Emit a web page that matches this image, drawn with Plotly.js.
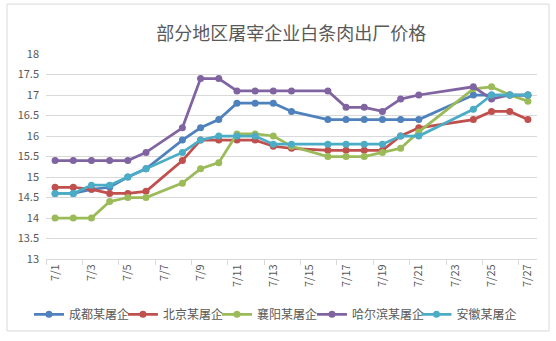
<!DOCTYPE html>
<html>
<head>
<meta charset="utf-8">
<script src="https://cdn.plot.ly/plotly-3.0.1.min.js"></script>
<style>
html,body{margin:0;padding:0;background:#fff;}
#chart{width:556px;height:341px;}
</style>
</head>
<body>
<div id="chart"></div>
<script>
const dates = ['2017-07-01','2017-07-02','2017-07-03','2017-07-04','2017-07-05','2017-07-06',
  '2017-07-08','2017-07-09','2017-07-10','2017-07-11','2017-07-12','2017-07-13','2017-07-14',
  '2017-07-16','2017-07-17','2017-07-18','2017-07-19','2017-07-20','2017-07-21',
  '2017-07-24','2017-07-25','2017-07-26','2017-07-27'];
const seriesNames = ['成都某屠企','北京某屠企','襄阳某屠企','哈尔滨某屠企','安徽某屠企'];
const chengdu  = [14.6,14.6,14.7,14.75,15.0,15.2,15.9,16.2,16.4,16.8,16.8,16.8,16.6,16.4,16.4,16.4,16.4,16.4,16.4,17.0,17.0,17.0,17.0];
const beijing  = [14.75,14.75,14.7,14.6,14.6,14.65,15.4,15.9,15.9,15.9,15.9,15.75,15.7,15.65,15.65,15.65,15.65,16.0,16.2,16.4,16.6,16.6,16.4];
const xiangyang= [14.0,14.0,14.0,14.4,14.5,14.5,14.85,15.2,15.35,16.05,16.05,16.0,15.75,15.5,15.5,15.5,15.6,15.7,16.1,17.15,17.2,17.0,16.85];
const harbin   = [15.4,15.4,15.4,15.4,15.4,15.6,16.2,17.4,17.4,17.1,17.1,17.1,17.1,17.1,16.7,16.7,16.6,16.9,17.0,17.2,16.9,17.0,17.0];
const anhui    = [14.6,14.6,14.8,14.8,15.0,15.2,15.6,15.9,16.0,16.0,16.0,15.8,15.8,15.8,15.8,15.8,15.8,16.0,16.0,16.65,17.0,17.0,17.0];
const colors = ['#4F81BD','#C0504D','#9BBB59','#8064A2','#4BACC6'];
const allSeries = [chengdu, beijing, xiangyang, harbin, anhui];
const legendIds = ['legend','legend2','legend3','legend4','legend5'];
const legendX = [-0.0347, 0.1567, 0.3482, 0.5417, 0.7545];

const traces = allSeries.map((ys, i) => ({
  x: dates, y: ys, name: seriesNames[i], type: 'scatter', mode: 'lines+markers',
  line: {color: colors[i], width: 2.75},
  marker: {color: colors[i], size: 7},
  legend: legendIds[i],
  hoverinfo: 'skip'
}));

const font = '"Noto Sans CJK SC", "Noto Sans", sans-serif';
const layout = {
  width: 556, height: 341,
  margin: {l: 46, r: 19, t: 54, b: 77.5, pad: 0},
  paper_bgcolor: '#ffffff', plot_bgcolor: '#ffffff',
  font: {family: font, color: '#595959', size: 11},
  title: {text: '部分地区屠宰企业白条肉出厂价格', x: 0.524, xanchor: 'center', y: 0.9, yanchor: 'middle',
          font: {family: font, size: 18, color: '#595959'}},
  showlegend: true,
  xaxis: {
    type: 'date', range: ['2017-06-30 12:00', '2017-07-27 12:00'],
    tick0: '2017-07-01', dtick: 2*86400000, tickformat: '%-m/%-d',
    tickangle: -90, tickfont: {size: 11, color: '#595959'},
    ticks: '', showgrid: false, zeroline: false,
    showline: true, linecolor: '#D9D9D9', linewidth: 1,
    minor: {tick0: '2017-06-30 12:00', dtick: 2*86400000, ticks: 'outside', ticklen: 5, tickcolor: '#D9D9D9', showgrid: false},
    fixedrange: true
  },
  yaxis: {
    range: [13, 18], dtick: 0.5, showgrid: true, gridcolor: '#D9D9D9', gridwidth: 1,
    zeroline: false, showline: false, ticks: '', tickfont: {size: 11, color: '#595959'},
    ticklabelstandoff: 6, fixedrange: true
  },
  shapes: [{type: 'rect', xref: 'paper', yref: 'paper', x0: -0.0794, x1: 1.0244, y0: -0.351, y1: 1.2434,
            line: {color: '#D9D9D9', width: 1}, fillcolor: 'rgba(0,0,0,0)', layer: 'below'}]
};
legendIds.forEach((id, i) => {
  layout[id] = {orientation: 'h', x: legendX[i], xanchor: 'left', y: -0.27, yanchor: 'middle',
    font: {family: font, size: 12, color: '#595959'}, itemwidth: 30, bgcolor: 'rgba(0,0,0,0)'};
});
Plotly.newPlot('chart', traces, layout, {staticPlot: true, displayModeBar: false});
</script>
</body>
</html>
